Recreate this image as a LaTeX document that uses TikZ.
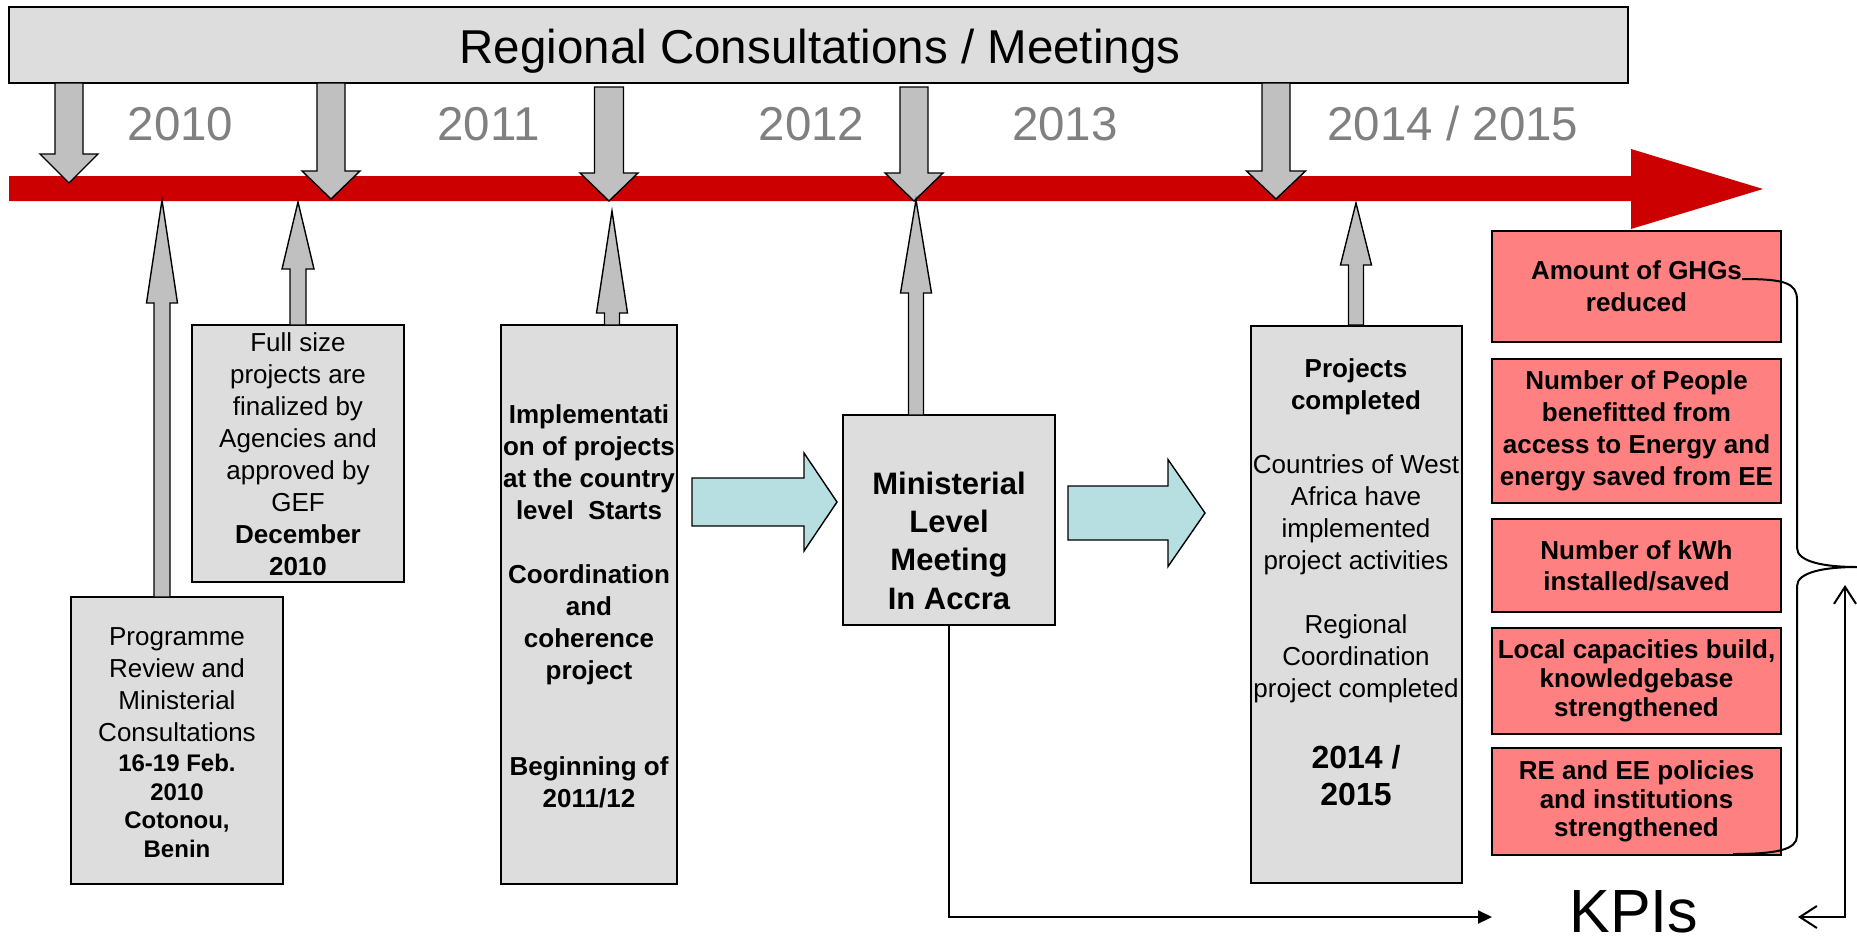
\documentclass[tikz,border=0pt]{standalone}
\usepackage{fontspec}
\setmainfont{Liberation Sans}
\usetikzlibrary{arrows.meta,calc}
\definecolor{boxgray}{HTML}{DDDDDD}
\definecolor{arrgray}{HTML}{C0C0C0}
\definecolor{barred}{HTML}{CC0000}
\definecolor{kpipink}{HTML}{FF8080}
\definecolor{cyanfill}{HTML}{B7DEE1}
\definecolor{yeargray}{HTML}{808080}
% vertical block arrow: x, y start, y head base, y tip, shaft half width, head half width
\newcommand\blkv[6]{%
  \filldraw[blkarrow] ({#1-#5},#2) -- ({#1-#5},#3) -- ({#1-#6},#3) -- (#1,#4) -- ({#1+#6},#3) -- ({#1+#5},#3) -- ({#1+#5},#2) -- cycle;}
% horizontal block arrow: y, x start, x head base, x tip, shaft half width, head half width
\newcommand\blkh[6]{%
  \filldraw[cyanarrow] (#2,{#1-#5}) -- (#3,{#1-#5}) -- (#3,{#1-#6}) -- (#4,#1) -- (#3,{#1+#6}) -- (#3,{#1+#5}) -- (#2,{#1+#5}) -- cycle;}
\begin{document}
\begin{tikzpicture}[x=1pt,y=-1pt,
  graybox/.style={draw=black, line width=1.6pt, fill=boxgray, inner sep=0pt},
  kpibox/.style={draw=black, line width=1.8pt, fill=kpipink, inner sep=0pt, minimum width=289pt, align=center},
  blkarrow/.style={draw=black, line width=1.4pt, fill=arrgray, line join=miter},
  cyanarrow/.style={draw=black, line width=1.4pt, fill=cyanfill, line join=miter},
  txt/.style={align=center, inner sep=0pt},
  year/.style={anchor=base, text=yeargray, inner sep=0pt, font=\fontsize{47.5}{56}\selectfont},
  conn/.style={draw=black, line width=2pt}
]
\useasboundingbox (0,0) rectangle (1857,945);

% header
\node[graybox, minimum width=1619pt, minimum height=76pt] (hdr) at (818.5,45) {};
\node[anchor=base, inner sep=0pt, font=\fontsize{47.5}{56}\selectfont] (hdrtxt) at (820,63) {Regional Consultations / Meetings};

% years
\node[year] (y2010) at (180.5,140) {2010};
\node[year] (y2011) at (488.5,140) {2011};
\node[year] (y2012) at (811.5,140) {2012};
\node[year] (y2013) at (1065,140) {2013};
\node[year] (y2014) at (1453,140) {2014 / 2015};

% red time line
\fill[barred] (9,176) -- (1631,176) -- (1631,149) -- (1763,189) -- (1631,229) -- (1631,201) -- (9,201) -- cycle;

% arrows from the header
\blkv{69}{83}{154}{183}{14}{29}
\blkv{331}{83}{171}{199}{14}{29}
\blkv{609}{87}{173}{201}{14.5}{29}
\blkv{914}{87}{173}{201}{14}{29}
\blkv{1276}{83}{171}{199}{14}{29.5}

% gray boxes
\node[graybox, minimum width=212pt, minimum height=287pt] (prog) at (177,740.5) {};
\node[graybox, minimum width=212pt, minimum height=257pt] (full) at (298,453.5) {};
\node[graybox, minimum width=176pt, minimum height=559pt] (impl) at (589,604.5) {};
\node[graybox, minimum width=212pt, minimum height=210pt] (min) at (949,520) {};
\node[graybox, minimum width=211pt, minimum height=557pt] (proj) at (1356.5,604.5) {};

% up arrows
\blkv{162}{597}{303}{200}{8}{15.5}
\blkv{298}{325}{269}{202}{8}{16}
\blkv{612}{325}{313}{211}{7.5}{15.5}
\blkv{916}{415}{293}{200}{7.5}{15.5}
\blkv{1356}{325}{265}{203}{7.5}{15.5}

% box texts
\node[txt, font=\fontsize{26}{32}\selectfont] (progA) at (177,685) {Programme\\Review and\\Ministerial\\Consultations};
\node[txt, font=\bfseries\fontsize{24}{28.7}\selectfont] (progB) at (177,806) {16-19 Feb.\\2010\\Cotonou,\\Benin};
\node[txt, font=\fontsize{26}{32}\selectfont] (fulltxt) at (298,454) {Full size\\projects are\\finalized by\\Agencies and\\approved by\\GEF\\\textbf{December}\\\textbf{2010}};
\node[txt, font=\bfseries\fontsize{26}{32}\selectfont] (impltxt) at (589,606.5) {Implementati\\on of projects\\at the country\\level\ \ Starts\\\mbox{}\\Coordination\\and\\coherence\\project\\\mbox{}\\\mbox{}\\Beginning of\\2011/12};
\node[txt, font=\bfseries\fontsize{31}{38.3}\selectfont] (mintxt) at (949,540.5) {Ministerial\\Level\\Meeting\\In Accra};
\node[txt, font=\fontsize{26}{32}\selectfont] (projA) at (1356,531) {\textbf{Projects}\\\textbf{completed}\\\mbox{}\\Countries of West\\Africa have\\implemented\\project activities\\\mbox{}\\Regional\\Coordination\\project completed};
\node[txt, font=\bfseries\fontsize{32}{37}\selectfont] (projB) at (1356,775.5) {2014 /\\2015};

% cyan arrows
\blkh{502}{692}{804}{837}{24}{49}
\blkh{513}{1068}{1168}{1205}{27}{53.5}

% KPI boxes
\node[kpibox, minimum height=111pt, font=\bfseries\fontsize{26}{32}\selectfont] (k1) at (1636.5,286.5) {Amount of GHGs\\reduced};
\node[kpibox, minimum height=144pt, font=\bfseries\fontsize{26}{32}\selectfont] (k2) at (1636.5,431) {Number of People\\benefitted from\\access to Energy and\\energy saved from EE};
\node[kpibox, minimum height=93pt, font=\bfseries\fontsize{26}{31}\selectfont] (k3) at (1636.5,565.5) {Number of kWh\\installed/saved};
\node[kpibox, minimum height=106pt, font=\bfseries\fontsize{26}{29}\selectfont] (k4) at (1636.5,681) {Local capacities build,\\knowledgebase\\strengthened};
\node[kpibox, minimum height=107pt, font=\bfseries\fontsize{26}{28.5}\selectfont] (k5) at (1636.5,801.5) {RE and EE policies\\and institutions\\strengthened};

% KPIs label
\node[anchor=base, inner sep=0pt, font=\fontsize{61}{70}\selectfont] (kpi) at (1634,932) {KPIs};
\coordinate (kpiL) at (1492,917);
\coordinate (kpiR) at (1798,917);
\coordinate (braceup) at (1845,585);

% connector from the ministerial meeting to the KPIs
\draw[conn, -{Triangle[length=14pt,width=13pt]}] (min.south) |- (kpiL);

% brace round the KPI boxes
\draw[conn] (1742,279) .. controls (1785,279) and (1797,283) .. (1797,300) -- (1797,548)
  .. controls (1797,562) and (1825,567) .. (1857,567)
  .. controls (1825,567) and (1797,572) .. (1797,586) -- (1797,836)
  .. controls (1797,850) and (1775,854) .. (1733,854);

% return arrow
\draw[conn, {Straight Barb[length=17pt,width=22pt]}-{Straight Barb[length=17pt,width=22pt]}] (braceup) |- (kpiR);
\end{tikzpicture}
\end{document}
